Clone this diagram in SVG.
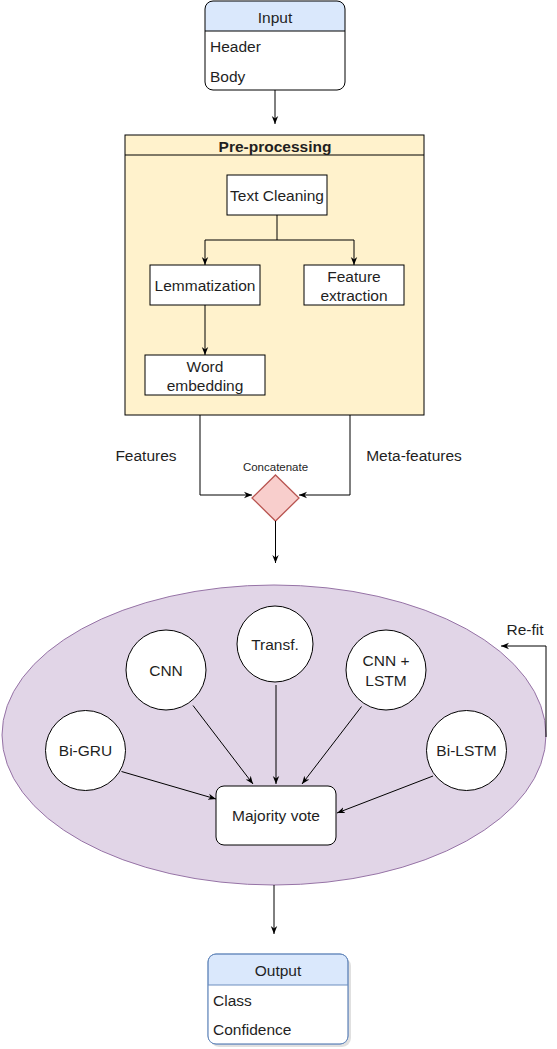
<svg xmlns="http://www.w3.org/2000/svg" width="557" height="1049" viewBox="0 0 557 1049">
<style>
text{font-family:"Liberation Sans",Arial,sans-serif;font-size:15.5px;fill:#1f1f1f}
.c{text-anchor:middle;dominant-baseline:central}
.l{dominant-baseline:central}
.box{fill:#fff;stroke:#000;stroke-width:1}
.circ{fill:#fff;stroke:#000;stroke-width:1}
.edge{fill:none;stroke:#000;stroke-width:1}
</style>
<defs>
<marker id="arr" viewBox="0 0 10 10" refX="10" refY="5" markerWidth="8" markerHeight="8" markerUnits="userSpaceOnUse" orient="auto">
<path d="M0,1 L10,5 L0,9 L3,5 z" fill="#000"/>
</marker>
</defs>
<rect width="557" height="1049" fill="#fff"/>

<g id="ensemble">
<ellipse cx="274" cy="735" rx="272" ry="150" fill="#e1d5e7" stroke="#9673a6"/>
</g>

<g id="input">
<path d="M205,31 V9 Q205,1 213,1 H337 Q345,1 345,9 V31 Z" fill="#dae8fc"/>
<rect x="205" y="1" width="140" height="89" rx="8" fill="none" stroke="#000"/>
<line x1="205" y1="31" x2="345" y2="31" stroke="#000"/>
<text class="c" x="275" y="17">Input</text>
<text class="l" x="210" y="46">Header</text>
<text class="l" x="210" y="76">Body</text>
</g>

<g id="preprocessing">
<rect x="125" y="135" width="299" height="280" fill="#fff2cc" stroke="#000"/>
<line x1="125" y1="155" x2="424" y2="155" stroke="#000"/>
<text class="c" x="275" y="146" font-weight="bold">Pre-processing</text>
</g>
<g id="textcleaning"><rect class="box" x="227" y="175" width="100" height="40"/><text class="c" x="277" y="195">Text Cleaning</text></g>
<g id="lemmatization"><rect class="box" x="150" y="265" width="110" height="40"/><text class="c" x="205" y="285">Lemmatization</text></g>
<g id="featureextraction"><rect class="box" x="304" y="265" width="100" height="40"/><text class="c" x="354" y="276">Feature</text><text class="c" x="354" y="295">extraction</text></g>
<g id="wordembedding"><rect class="box" x="145" y="355" width="120" height="40"/><text class="c" x="205" y="366">Word</text><text class="c" x="205" y="385">embedding</text></g>

<g id="concatenate">
<path d="M275.5,475 L299,498 L275.5,521 L252,498 Z" fill="#f8cecc" stroke="#b85450" stroke-width="1.3"/>
<text class="c" x="275.5" y="467" font-size="11.5px" style="font-size:11.5px">Concatenate</text>
</g>

<g id="labels">
<text class="c" x="146" y="455">Features</text>
<text class="c" x="414" y="455">Meta-features</text>
<text class="c" x="525" y="629">Re-fit</text>
</g>

<g id="bigru"><circle class="circ" cx="85.5" cy="750.5" r="40"/><text class="c" x="85.5" y="750.5">Bi-GRU</text></g>
<g id="cnn"><circle class="circ" cx="166" cy="670" r="40"/><text class="c" x="166" y="670">CNN</text></g>
<g id="transf"><circle class="circ" cx="275" cy="644" r="38"/><text class="c" x="275" y="644">Transf.</text></g>
<g id="cnnlstm"><circle class="circ" cx="386" cy="670" r="40"/><text class="c" x="386" y="660">CNN +</text><text class="c" x="386" y="680">LSTM</text></g>
<g id="bilstm"><circle class="circ" cx="466.5" cy="750.5" r="40"/><text class="c" x="466.5" y="750.5">Bi-LSTM</text></g>
<g id="majorityvote"><rect x="216" y="786" width="120" height="59" rx="8" fill="#fff" stroke="#000"/><text class="c" x="276" y="815.5">Majority vote</text></g>

<g id="output">
<rect x="210" y="957" width="141" height="90" rx="9" fill="#000" opacity="0.12"/>
<path d="M208,985 V962 Q208,954 216,954 H340 Q348,954 348,962 V985 Z" fill="#dae8fc"/>
<rect x="208" y="954" width="140" height="90" rx="8" fill="#fff" fill-opacity="0" stroke="#6c8ebf"/>
<path d="M208.5,985 V1036 Q208.5,1043.5 216,1043.5 H340 Q347.5,1043.5 347.5,1036 V985 Z" fill="#fff"/>
<rect x="208" y="954" width="140" height="90" rx="8" fill="none" stroke="#6c8ebf"/>
<line x1="208" y1="985" x2="348" y2="985" stroke="#6c8ebf"/>
<text class="c" x="278" y="970">Output</text>
<text class="l" x="213" y="1000">Class</text>
<text class="l" x="213" y="1029">Confidence</text>
</g>

<g id="connectors">
<path class="edge" d="M275,90 V124" marker-end="url(#arr)"/>
<path class="edge" d="M277,215 V240 H205 V265" marker-end="url(#arr)"/>
<path class="edge" d="M277,240 H354 V265" marker-end="url(#arr)"/>
<path class="edge" d="M205,305 V355" marker-end="url(#arr)"/>
<path class="edge" d="M200,415 V495 H252" marker-end="url(#arr)"/>
<path class="edge" d="M350,415 V495 H299" marker-end="url(#arr)"/>
<path class="edge" d="M275.5,521 V563" marker-end="url(#arr)"/>
<path class="edge" d="M121.5,771.5 L216,799" marker-end="url(#arr)"/>
<path class="edge" d="M193,705.5 L253,784" marker-end="url(#arr)"/>
<path class="edge" d="M276,685 V784" marker-end="url(#arr)"/>
<path class="edge" d="M361.5,706.5 L302,784" marker-end="url(#arr)"/>
<path class="edge" d="M433,776 L337,813" marker-end="url(#arr)"/>
<path class="edge" d="M546,737 V646 H501" marker-end="url(#arr)"/>
<path class="edge" d="M274,885 V934" marker-end="url(#arr)"/>
</g>
</svg>
